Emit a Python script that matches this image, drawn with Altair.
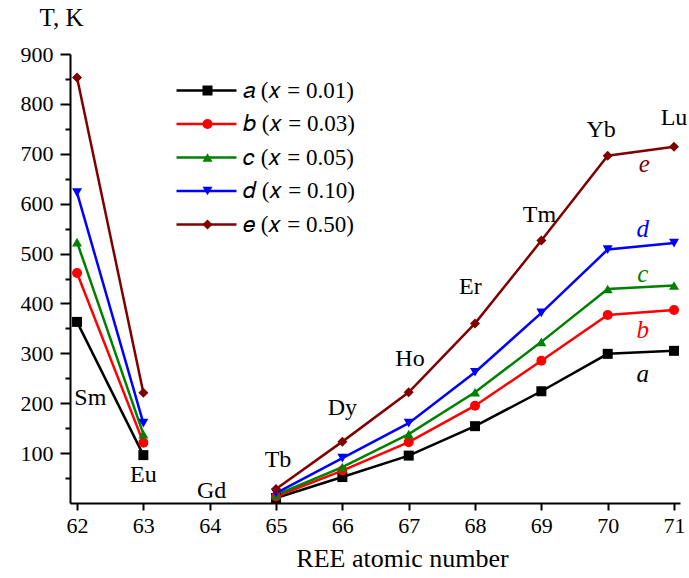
import altair as alt
import pandas as pd

# ---- data ----
atomic_numbers = [62, 63, 65, 66, 67, 68, 69, 70, 71]
series_keys = ["a", "b", "c", "d", "e"]
series_names = [
    "𝑎 (𝑥 = 0.01)",
    "𝑏 (𝑥 = 0.03)",
    "𝑐 (𝑥 = 0.05)",
    "𝑑 (𝑥 = 0.10)",
    "𝑒 (𝑥 = 0.50)",
]
T_a = [363, 96, 10, 52, 95, 154, 224, 299, 305]
T_b = [461, 121, 13, 65, 122, 195, 285, 377, 387]
T_c = [523, 138, 16, 72, 138, 222, 323, 429, 436]
T_d = [622, 160, 20, 90, 160, 262, 381, 508, 521]
T_e = [853, 221, 28, 123, 222, 360, 526, 696, 714]
series_values = [T_a, T_b, T_c, T_d, T_e]

colors = ["#000000", "#ff0000", "#008000", "#0000ff", "#800000"]
shapes = ["square", "circle", "triangle-up", "triangle-down", "diamond"]

# element annotations (data coordinates)
elem_names = ["Sm", "Eu", "Gd", "Tb", "Dy", "Ho", "Er", "Tm", "Yb", "Lu"]
elem_x = [62.2, 63.0, 64.03, 65.03, 66.0, 67.02, 67.93, 68.97, 69.9, 71.0]
elem_y = [196, 42, 10, 72, 176, 275, 419, 563, 733, 758]

# series letter annotations
tag_x = [70.53, 70.53, 70.53, 70.53, 70.55]
tag_y = [243, 331, 443, 533, 663]

major_ticks = list(range(100, 901, 100))
minor_ticks = list(range(50, 851, 100))

rows = []
for name, vals in zip(series_names, series_values):
    for z, t in zip(atomic_numbers, vals):
        rows.append({"Z": z, "T": t, "series": name})
df = pd.DataFrame(rows)

elem_df = pd.DataFrame({"name": elem_names, "Z": elem_x, "T": elem_y})
tag_df = pd.DataFrame({"tag": series_keys, "series": series_names, "Z": tag_x, "T": tag_y})

FONT = "Times New Roman, Liberation Serif, Tinos, serif"

x_scale = alt.Scale(domain=[61.894, 71.09], nice=False, zero=False)
y_scale = alt.Scale(domain=[0, 900], nice=False)
color_scale = alt.Scale(domain=series_names, range=colors)

x_axis = alt.Axis(
    values=list(range(62, 72)),
    format="d",
    title="REE atomic number",
    titleFont=FONT,
    titleFontSize=26,
    titleFontWeight="normal",
    titleX=332,
    titleY=63,
    titleBaseline="alphabetic",
    titleAlign="center",
    titleColor="#000",
    labelFont=FONT,
    labelFontSize=22,
    labelColor="#000",
    labelPadding=5,
    labelOverlap=False,
    tickSize=7,
    tickWidth=2,
    tickColor="#000",
    domainColor="#000",
    domainWidth=2,
    grid=False,
    labelFlush=False,
)

y_major = alt.Axis(
    orient="left",
    values=major_ticks,
    title="T, K",
    titleAngle=0,
    titleFont=FONT,
    titleFontSize=25,
    titleFontWeight="normal",
    titleColor="#000",
    titleX=-9,
    titleY=-29,
    titleAlign="center",
    titleBaseline="alphabetic",
    labelFont=FONT,
    labelFontSize=22,
    labelColor="#000",
    labelPadding=7,
    labelOverlap=False,
    tickSize=10,
    tickWidth=2,
    tickColor="#000",
    domainColor="#000",
    domainWidth=2,
    grid=False,
    labelFlush=False,
)
y_minor = alt.Axis(
    orient="left",
    values=minor_ticks,
    labels=False,
    title=None,
    domain=False,
    tickSize=5,
    tickWidth=2,
    tickColor="#000",
    grid=False,
)

LEG_FONT = 23
LEG_Y = 25

# legend 1: coloured line segments (custom path, wider than its nominal size) with the labels
line_legend = alt.Legend(
    orient="none",
    legendX=95,
    legendY=LEG_Y,
    title=None,
    symbolType="M0,0H12",
    symbolSize=100,
    symbolStrokeWidth=2.5,
    labelFont=FONT,
    labelFontSize=LEG_FONT,
    labelColor="#000",
    labelOffset=55,
    labelLimit=400,
    rowPadding=9.5,
)
# legend 2: the markers, drawn over the middle of each line segment
marker_legend = alt.Legend(
    orient="none",
    legendX=126,
    legendY=LEG_Y,
    title=None,
    symbolSize=100,
    symbolStrokeWidth=0,
    labelFont=FONT,
    labelFontSize=LEG_FONT,
    labelExpr="''",
    labelOffset=3,
    rowPadding=9.5,
)

base = alt.Chart(df).transform_calculate(seg="datum.Z < 64 ? 0 : 1")

lines = base.mark_line(strokeWidth=2.5).encode(
    x=alt.X("Z:Q", scale=x_scale, axis=x_axis),
    y=alt.Y("T:Q", scale=y_scale, axis=y_major),
    stroke=alt.Stroke("series:N", sort=series_names, scale=alt.Scale(range=colors), legend=line_legend),
    detail="seg:N",
)

markers = base.mark_point(filled=True, size=100, opacity=1).encode(
    x=alt.X("Z:Q", scale=x_scale),
    y=alt.Y("T:Q", scale=y_scale, axis=y_minor),
    color=alt.Color("series:N", scale=color_scale, legend=marker_legend),
    shape=alt.Shape("series:N", scale=alt.Scale(domain=series_names, range=shapes), legend=marker_legend),
)

elem_text = alt.Chart(elem_df).mark_text(
    font=FONT, fontSize=24, baseline="alphabetic", align="center", color="#000"
).encode(
    x=alt.X("Z:Q", scale=x_scale),
    y=alt.Y("T:Q", scale=y_scale, axis=None),
    text="name:N",
)

tag_text = alt.Chart(tag_df).mark_text(
    font=FONT, fontSize=25, fontStyle="italic", baseline="alphabetic", align="center"
).encode(
    x=alt.X("Z:Q", scale=x_scale),
    y=alt.Y("T:Q", scale=y_scale, axis=None),
    text="tag:N",
    color=alt.Color("series:N", scale=color_scale, legend=None),
)

chart = (
    alt.layer(lines, markers, elem_text, tag_text)
    .resolve_axis(y="independent")
    .properties(
        width=610,
        height=449,
        autosize=alt.AutoSizeParams(type="none"),
        padding={"left": 70, "top": 54, "right": 9, "bottom": 75},
        background="white",
    )
    .configure_view(stroke=None)
)

chart.save("out.html", embed_options={"renderer": "svg", "actions": False})
